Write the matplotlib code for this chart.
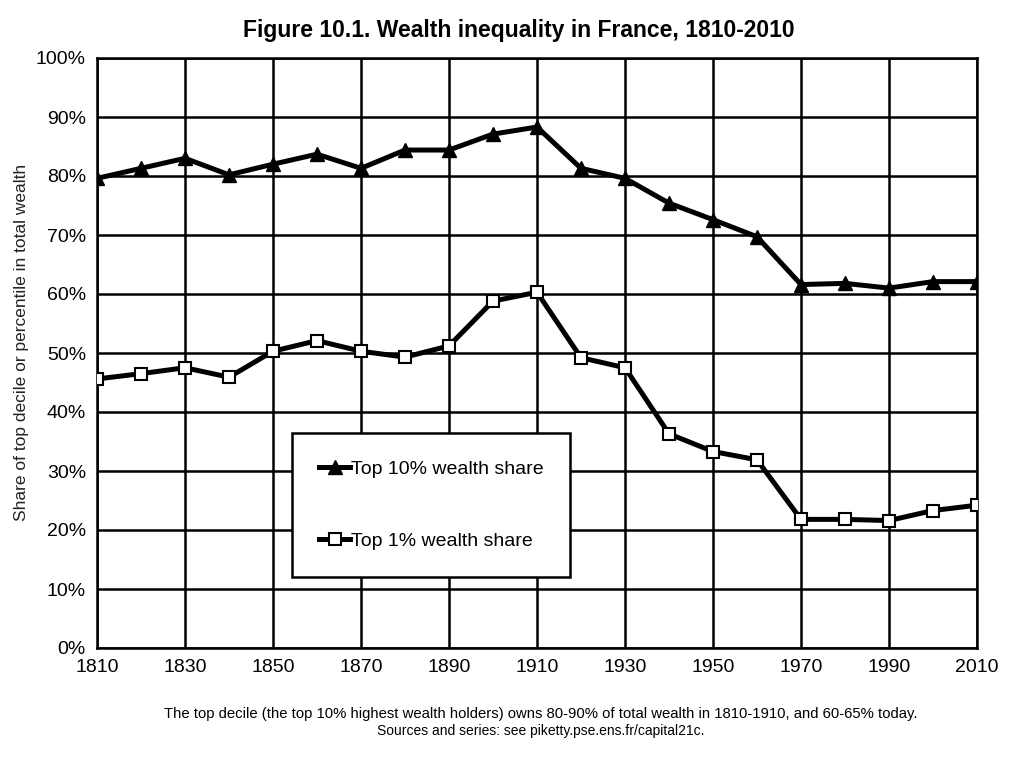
import numpy as np
import matplotlib.pyplot as plt
from matplotlib.ticker import PercentFormatter

plt.rcParams['font.family'] = ['Liberation Sans', 'DejaVu Sans']

# Datos
years = [1810, 1820, 1830, 1840, 1850, 1860, 1870, 1880, 1890, 1900, 1910,
         1920, 1930, 1940, 1950, 1960, 1970, 1980, 1990, 2000, 2010]
top10 = [79.6, 81.3, 83.0, 80.2, 82.0, 83.7, 81.3, 84.4, 84.4, 87.1, 88.3,
         81.3, 79.6, 75.4, 72.6, 69.7, 61.6, 61.8, 61.0, 62.1, 62.1]
top1 = [45.6, 46.5, 47.5, 45.9, 50.3, 52.1, 50.3, 49.3, 51.2, 58.8, 60.3,
        49.2, 47.5, 36.3, 33.3, 31.9, 21.8, 21.8, 21.6, 23.3, 24.2]
xticks = list(range(1810, 2011, 20))

fig = plt.figure(figsize=(10.24, 7.68), dpi=100)
ax = fig.add_axes([97/1024, 1 - 648/768, 880/1024, 590/768])

ax.plot(years, top10, color='black', lw=3.6, marker='^', ms=10,
        mfc='black', mec='black', label='Top 10% wealth share', zorder=3)
ax.plot(years, top1, color='black', lw=3.6, marker='s', ms=9,
        mfc='white', mec='black', mew=1.5, label='Top 1% wealth share', zorder=3)

ax.set_xlim(1810, 2010)
ax.set_ylim(0, 100)
ax.set_xticks(xticks)
ax.set_yticks(np.arange(0, 101, 10))
ax.yaxis.set_major_formatter(PercentFormatter(decimals=0))
ax.grid(True, color='black', lw=1.8)
ax.set_axisbelow(True)
for s in ax.spines.values():
    s.set_linewidth(1.8)
ax.tick_params(length=0, labelsize=14, pad=8)

# etiqueta del eje y colocada a mano
fig.text(22/1024, 1 - 342/768, 'Share of top decile or percentile in total wealth',
         rotation=90, ha='center', va='center', fontsize=12.5, color='#222222')

leg = ax.legend(loc='center left', bbox_to_anchor=(0.2216, 0.2423, 0.316, 0.0),
                mode='expand', fontsize=14, frameon=True, fancybox=False,
                edgecolor='black', framealpha=1, borderpad=1.4,
                labelspacing=2.8, handlelength=1.6, handletextpad=0.05,
                borderaxespad=0)
leg.get_frame().set_linewidth(1.8)

fig.suptitle('Figure 10.1. Wealth inequality in France, 1810-2010',
             fontsize=16.5, fontweight='bold', x=0.507, y=0.975)
fig.text(541/1024, 1 - 714/768,
         'The top decile (the top 10% highest wealth holders) owns 80-90% of total wealth in 1810-1910, and 60-65% today.',
         ha='center', va='center', fontsize=10.7)
fig.text(541/1024, 1 - 731/768, 'Sources and series: see piketty.pse.ens.fr/capital21c.',
         ha='center', va='center', fontsize=10)

fig.savefig('out.png', dpi=100)
